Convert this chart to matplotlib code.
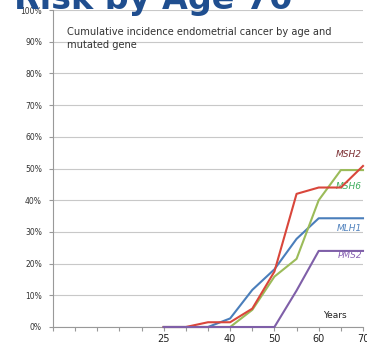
import matplotlib.pyplot as plt

# cumulative incidence (%) by age
years = [25, 30, 35, 40, 45, 50, 55, 60, 65, 70]
msh2 = [0, 0, 1.5, 1.5, 5.8, 17.5, 42, 44, 44, 50.8]
mlh1 = [0, 0, 0, 2.7, 11.7, 18.2, 27.8, 34.3, 34.3, 34.3]
msh6 = [0, 0, 0, 0, 5.4, 15.9, 21.5, 40, 49.5, 49.5]
pms2 = [0, 0, 0, 0, 0, 0, 11.5, 24, 24, 24]

genes = ["MSH2", "MSH6", "MLH1", "PMS2"]
series = [msh2, msh6, mlh1, pms2]
line_colors = ["#d9463b", "#9bbb59", "#4a7ebb", "#7f5fa8"]
label_colors = ["#7a2c30", "#3fae5e", "#4f81bd", "#8a64b4"]
label_y = [54.3, 44.2, 31.2, 22.4]

x_labels = {25: "25", 40: "40", 50: "50", 60: "60", 70: "70"}

fig = plt.figure(figsize=(3.67, 3.46), dpi=100)
ax = fig.add_axes([53 / 367, 1 - 327 / 346, 310 / 367, 317 / 346])

# red over green/blue, purple on top along the baseline
for vals, c, z in zip(series, line_colors, [5, 4, 3, 6]):
    ax.plot(years, vals, color=c, lw=1.5, clip_on=False, zorder=z)

for name, c, ly in zip(genes, label_colors, label_y):
    ax.text(69.8, ly, name, color=c, fontsize=6.5, style="italic",
            ha="right", va="center")

ax.text(63.7, 3.5, "Years", fontsize=6.5, color="#222222", ha="center", va="center")
ax.text(3.2, 94.5, "Cumulative incidence endometrial cancer by age and\nmutated gene",
        fontsize=7.1, color="#333333", ha="left", va="top", linespacing=1.3)

ax.set_xlim(0, 70)
ax.set_ylim(0, 100)
ax.set_xticks(range(0, 71, 5))
ax.set_xticklabels([x_labels.get(t, "") for t in range(0, 71, 5)], fontsize=7, color="#222222")
ax.set_yticks(range(0, 101, 10))
ax.set_yticklabels([f"{t}%" for t in range(0, 101, 10)], fontsize=5.5, color="#333333")
ax.tick_params(axis="x", length=3, color="#999999", pad=2)
ax.tick_params(axis="y", length=3, color="#999999", pad=5)
ax.grid(axis="y", color="#c8c8c8", lw=0.8)
ax.set_axisbelow(True)
for side in ["top", "right"]:
    ax.spines[side].set_visible(False)
for side in ["left", "bottom"]:
    ax.spines[side].set_color("#999999")

# title of the slide, cut off at the top of the image
fig.text(292 / 367, 1 - 9 / 346, "r Risk by Age 70", fontsize=24, fontweight="bold",
         color="#1f4e8f", ha="right", va="baseline")

fig.savefig("out.png", dpi=100)
